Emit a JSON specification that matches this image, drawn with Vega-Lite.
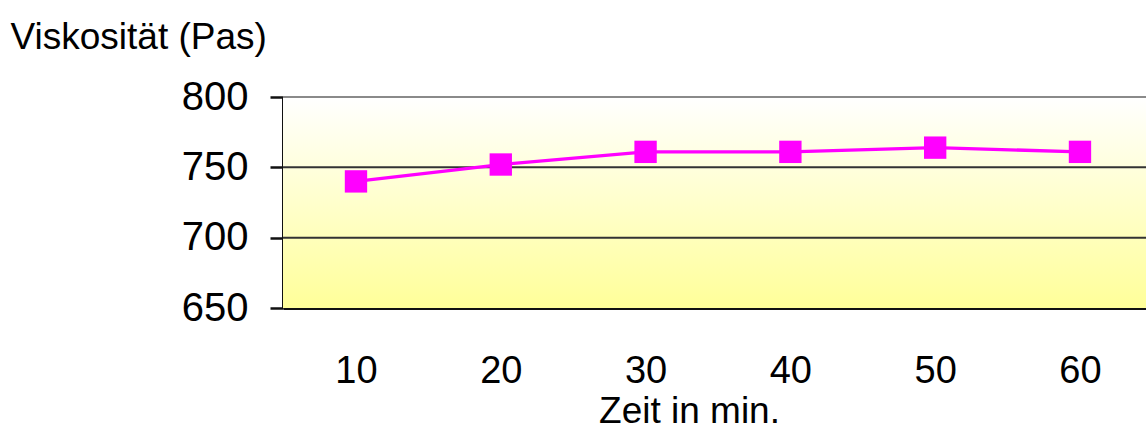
{
  "$schema": "https://vega.github.io/schema/vega-lite/v6.json",
  "autosize": "none",
  "padding": {"left": 283, "top": 97, "right": 0, "bottom": 124},
  "width": 863,
  "height": 211,
  "config": {
    "view": {"stroke": null},
    "font": "Liberation Sans",
    "axisX": {
      "grid": false,
      "ticks": false,
      "tickSize": 0,
      "domain": true,
      "domainColor": "#111111",
      "domainWidth": 3,
      "labelFont": "Liberation Sans",
      "labelFontSize": 38,
      "labelColor": "#000000",
      "labelBaseline": "alphabetic",
      "labelPadding": 74,
      "labelFlush": false,
      "labelOverlap": false,
      "titleFont": "Liberation Sans",
      "titleFontSize": 37,
      "titleFontWeight": "normal",
      "titleColor": "#000000",
      "titleAlign": "center",
      "titleBaseline": "alphabetic",
      "titleX": 406,
      "titleY": 114
    },
    "axisY": {
      "grid": false,
      "ticks": true,
      "tickSize": 13,
      "tickWidth": 2.5,
      "tickColor": "#111111",
      "domain": true,
      "domainColor": "#111111",
      "domainWidth": 3,
      "labelFont": "Liberation Sans",
      "labelFontSize": 40,
      "labelColor": "#000000",
      "labelPadding": 22,
      "labelFlush": false,
      "labelOverlap": false,
      "titleFont": "Liberation Sans",
      "titleFontSize": 37,
      "titleFontWeight": "normal",
      "titleColor": "#000000",
      "titleAngle": 0,
      "titleAlign": "left",
      "titleBaseline": "alphabetic",
      "titleX": -273,
      "titleY": -49
    }
  },
  "datasets": {
    "bg": [{"lo": 650, "hi": 800}],
    "grid": [
      {"g": 700, "kind": "inner"},
      {"g": 750, "kind": "inner"},
      {"g": 800, "kind": "top"}
    ],
    "series": [
      {"zeit": 10, "viskositaet": 740},
      {"zeit": 20, "viskositaet": 752},
      {"zeit": 30, "viskositaet": 761},
      {"zeit": 40, "viskositaet": 761},
      {"zeit": 50, "viskositaet": 764},
      {"zeit": 60, "viskositaet": 761}
    ]
  },
  "layer": [
    {
      "data": {"name": "bg"},
      "mark": {
        "type": "rect",
        "color": {
          "gradient": "linear",
          "x1": 0, "y1": 0, "x2": 0, "y2": 1,
          "stops": [
            {"offset": 0, "color": "#ffffff"},
            {"offset": 1, "color": "#ffff99"}
          ]
        }
      },
      "encoding": {
        "y": {"field": "hi", "type": "quantitative", "scale": {"domain": [650, 800], "nice": false, "zero": false}, "title": "Viskosität (Pas)", "axis": {"values": [650, 700, 750, 800], "domainWidth": 3}},
        "y2": {"field": "lo"}
      }
    },
    {
      "data": {"name": "grid"},
      "mark": {"type": "rule", "strokeWidth": 2},
      "encoding": {
        "y": {"field": "g", "type": "quantitative", "scale": {"domain": [650, 800], "nice": false, "zero": false}, "title": "Viskosität (Pas)", "axis": {"values": [650, 700, 750, 800], "domainWidth": 3}},
        "color": {"field": "kind", "type": "nominal", "scale": {"domain": ["inner", "top"], "range": ["#333333", "#8a8a8a"]}, "legend": null}
      }
    },
    {
      "data": {"name": "series"},
      "mark": {"type": "line", "color": "#ff00ff", "strokeWidth": 3.3, "point": {"shape": "square", "size": 500, "color": "#ff00ff", "filled": true, "opacity": 1}},
      "encoding": {
        "x": {
          "field": "zeit", "type": "quantitative",
          "scale": {"domain": [4.96, 64.56], "nice": false, "zero": false},
          "title": "Zeit in min.",
          "axis": {"values": [10, 20, 30, 40, 50, 60], "domainWidth": 3}
        },
        "y": {
          "field": "viskositaet", "type": "quantitative",
          "scale": {"domain": [650, 800], "nice": false, "zero": false},
          "title": "Viskosität (Pas)",
          "axis": {"values": [650, 700, 750, 800], "domainWidth": 3}
        }
      }
    }
  ]
}
